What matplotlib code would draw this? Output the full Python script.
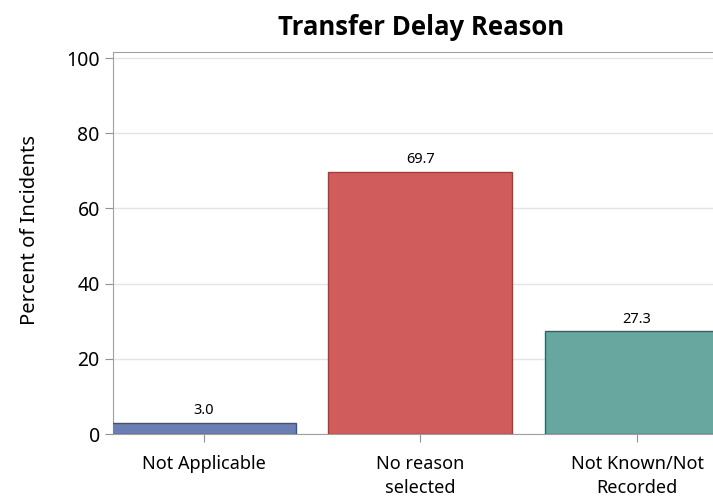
import numpy as np
import matplotlib.pyplot as plt

plt.rcParams['font.family'] = ['Noto Sans', 'DejaVu Sans']

# data
categories = ['Not Applicable', 'No reason\nselected', 'Not Known/Not\nRecorded']
percents = [3.0, 69.7, 27.3]
fill_colors = ['#6b7fb4', '#d05c5c', '#68a6a0']
edge_colors = ['#3e4f8c', '#a83a3a', '#1f6e66']

fig = plt.figure(figsize=(7.13, 4.98), dpi=100)
ax = fig.add_axes([113/713, 1 - 434/498, 600/713, (434 - 52)/498])

x = np.arange(len(categories))
bars = ax.bar(x, percents, width=0.85, color=fill_colors, edgecolor=edge_colors,
              linewidth=1, zorder=3)

for xi, v in zip(x, percents):
    ax.text(xi, v + 1.2, '%.1f' % v, ha='center', va='bottom', fontsize=10.5, zorder=4)

ax.set_xlim(-0.418, 2.35)
ax.set_ylim(0, 101.6)
ax.set_yticks([0, 20, 40, 60, 80, 100])
ax.set_xticks(x)
ax.set_xticklabels(categories, fontsize=13, linespacing=1.45)
ax.tick_params(axis='y', labelsize=14, colors='#909090', labelcolor='black', length=6)
ax.tick_params(axis='x', colors='#909090', labelcolor='black', length=6, pad=9)

ax.grid(axis='y', color='#e4e4e4', linewidth=1, zorder=0)
for side in ['left', 'bottom', 'top']:
    ax.spines[side].set_color('#a0a0a0')
ax.spines['right'].set_visible(False)

ax.set_ylabel('Percent of Incidents', fontsize=14.5)
ax.yaxis.set_label_coords(-0.121, 0.534)
ax.set_title('Transfer Delay Reason', fontsize=18.5, fontweight='bold', pad=12,
             x=0.513, family=['Open Sans', 'DejaVu Sans'])

plt.savefig('out.png', dpi=100)
